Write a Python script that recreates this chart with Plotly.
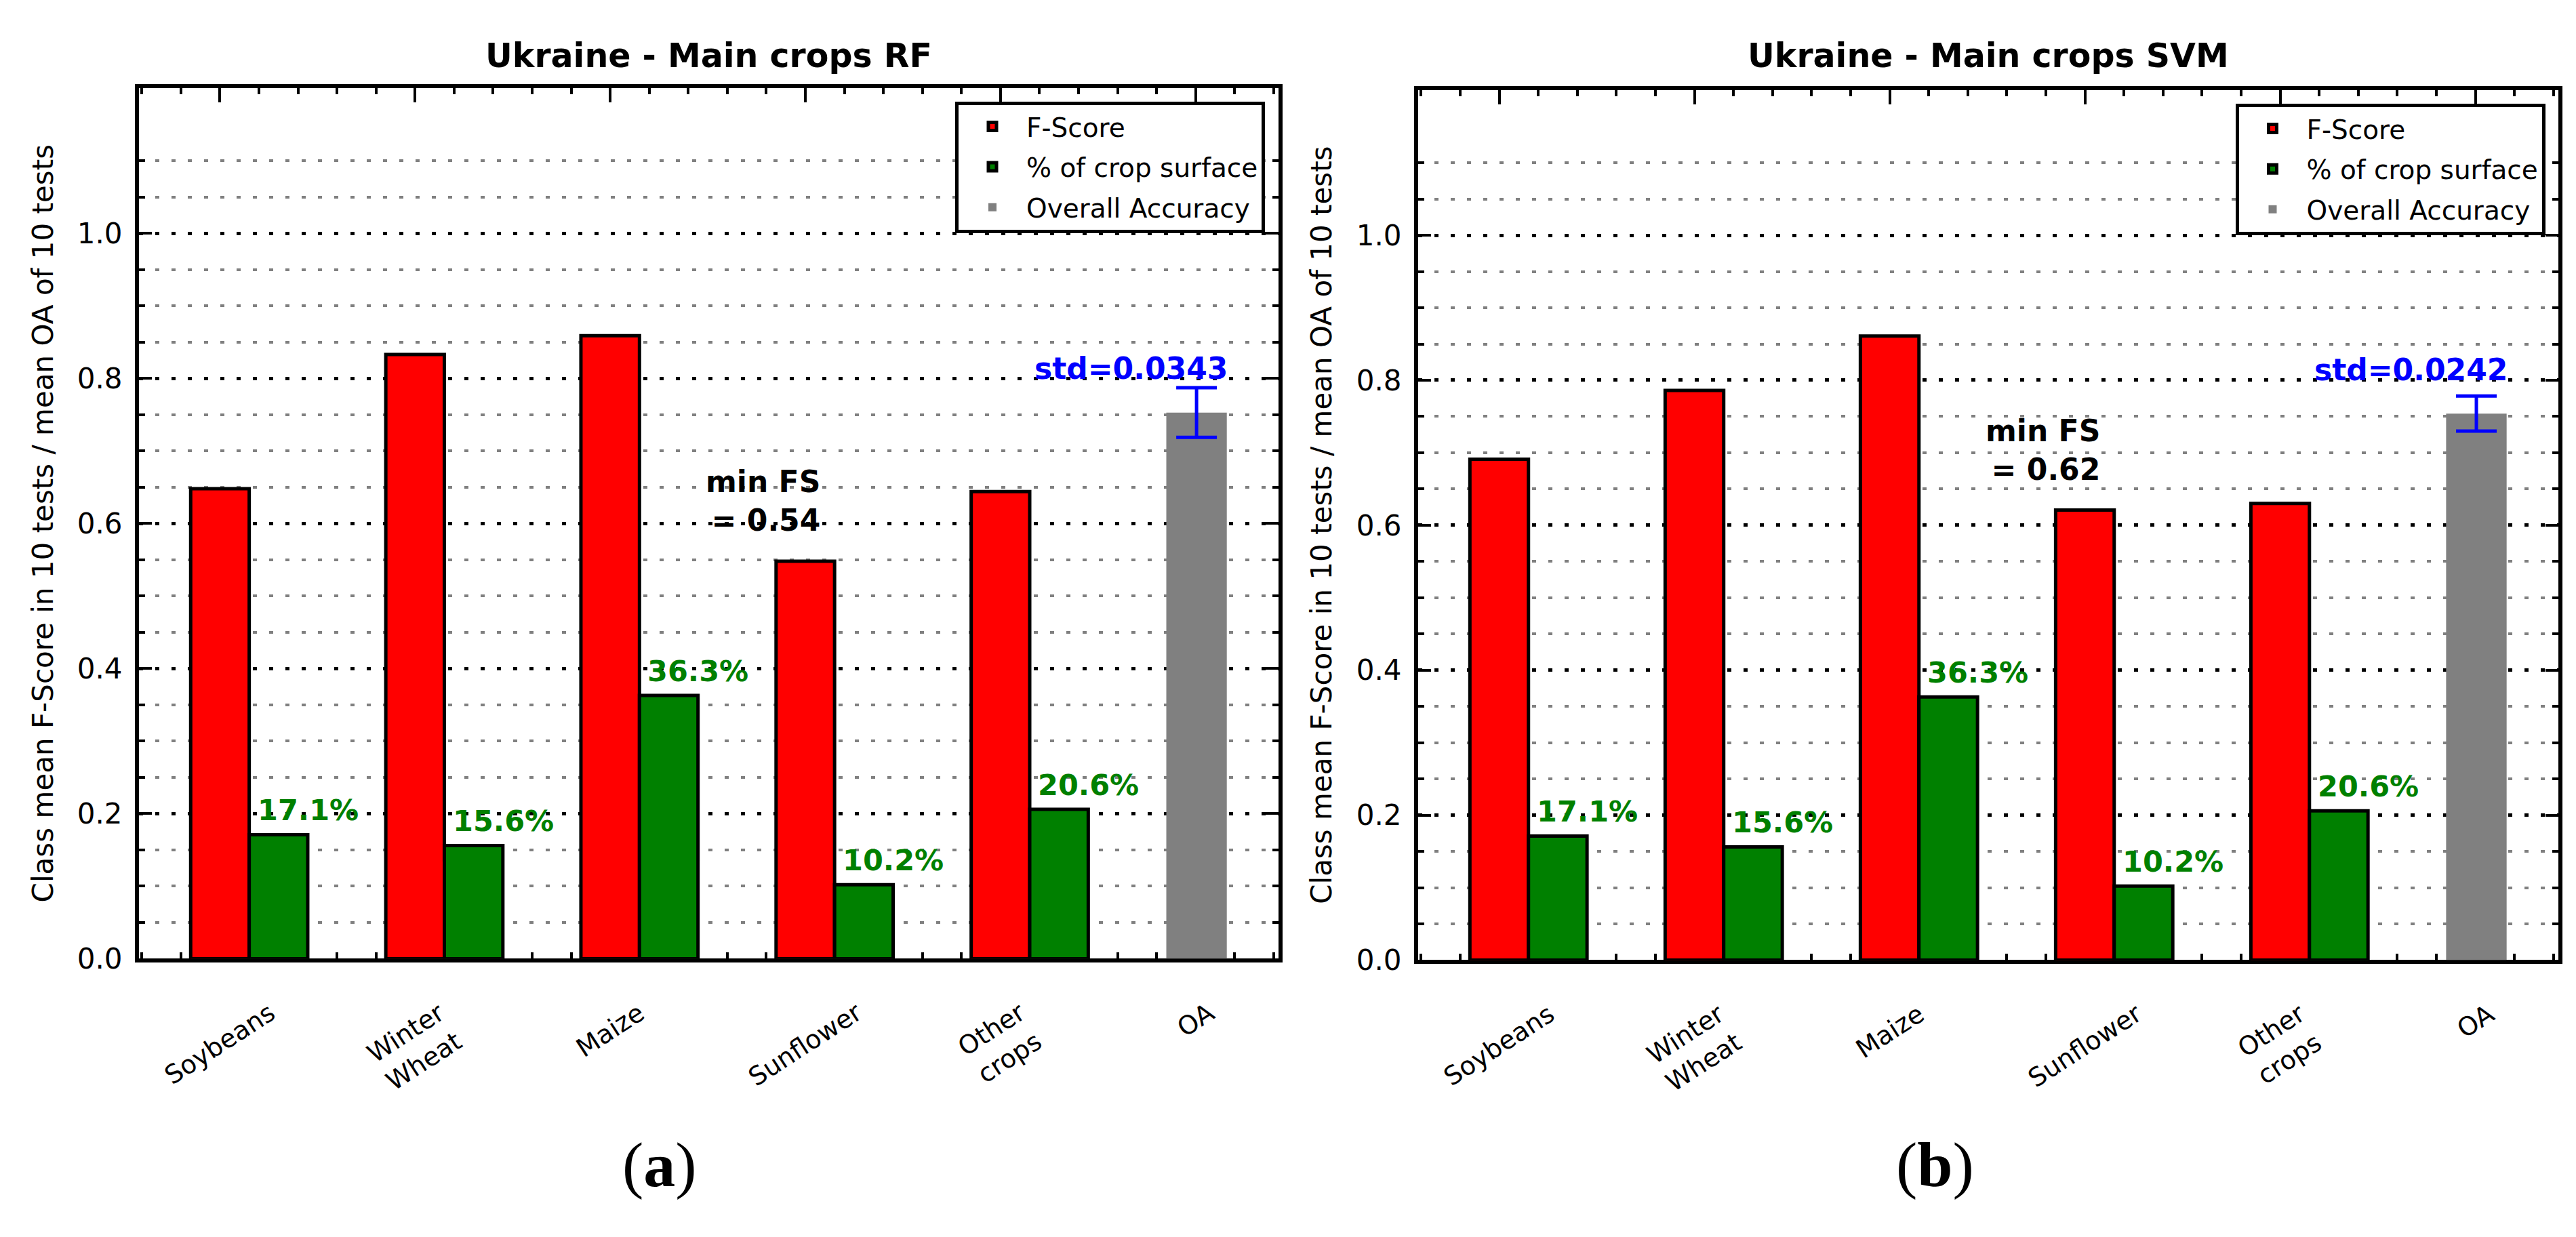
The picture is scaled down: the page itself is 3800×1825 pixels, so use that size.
import plotly.graph_objects as go

# ---------------- data ----------------
categories = ["Soybeans", "Winter\nWheat", "Maize", "Sunflower", "Other\ncrops"]
oa_label = "OA"
panel_titles = ["Ukraine - Main crops RF", "Ukraine - Main crops SVM"]
panel_tags = ["a", "b"]
fscore_rf = [0.648, 0.833, 0.859, 0.548, 0.644]
fscore_svm = [0.691, 0.786, 0.861, 0.621, 0.630]
crop_surface = [0.171, 0.156, 0.363, 0.102, 0.206]
oa_mean = [0.753, 0.754]
oa_std = [0.0343, 0.0242]
series_names = ["F-Score", "% of crop surface", "Overall Accuracy"]
y_major = [0.0, 0.2, 0.4, 0.6, 0.8, 1.0]
y_minor = [0.05, 0.1, 0.15, 0.25, 0.3, 0.35, 0.45, 0.5, 0.55, 0.65, 0.7, 0.75,
           0.85, 0.9, 0.95, 1.05, 1.1]
y_label = "Class mean F-Score in 10 tests / mean OA of 10 tests"

# ---------------- style / layout constants ----------------
W, H = 3800, 1825
FONT = "DejaVu Sans"
RED, GREEN, GRAY, BLUE = "#ff0000", "#008000", "#808080", "#0000ff"
BAR_W = 0.3
X_RANGE = [-0.265, 5.575]
panels_px = [  # left, right, top, bottom in pixels
    (197, 1878, 124, 1426),
    (2084, 3766, 127, 1428),
]
fscores = [fscore_rf, fscore_svm]
ylabel_x_px = [55, 1942]
tag_x_px = [965, 2846]


def px_x(v):
    return v / W


def px_y(v):
    return 1 - v / H


fig = go.Figure()
annotations = []
n = len(categories)

for p in range(2):
    xa = "x" if p == 0 else "x2"
    ya = "y" if p == 0 else "y2"
    leg = "legend" if p == 0 else "legend2"
    fs = fscores[p]
    red_x = [i + BAR_W / 2 for i in range(n)]
    green_x = [i + 1.5 * BAR_W for i in range(n)]
    fig.add_trace(go.Bar(
        x=red_x, y=fs, width=BAR_W, name=series_names[0],
        legendgroup=f"g0_{p}",
        marker=dict(color=RED, line=dict(color="black", width=5)),
        xaxis=xa, yaxis=ya, legend=leg))
    fig.add_trace(go.Bar(
        x=green_x, y=crop_surface, width=BAR_W, name=series_names[1],
        legendgroup=f"g1_{p}",
        marker=dict(color=GREEN, line=dict(color="black", width=5)),
        xaxis=xa, yaxis=ya, legend=leg))
    fig.add_trace(go.Bar(
        x=[n + 0.155], y=[oa_mean[p]], width=0.31, name=series_names[2],
        legendgroup=f"g2_{p}",
        marker=dict(color=GRAY, line=dict(width=0)),
        error_y=dict(type="data", array=[oa_std[p]], color=BLUE,
                     thickness=5, width=30),
        xaxis=xa, yaxis=ya, legend=leg))

    l, r, t, b = panels_px[p]
    # percentage labels
    for i, v in enumerate(crop_surface):
        annotations.append(dict(
            x=i + 0.335, y=v + 0.02, xref=xa, yref=ya,
            text=f"<b>{v * 100:.1f}%</b>", showarrow=False,
            xanchor="left", yanchor="middle", yshift=15,
            font=dict(family=FONT, size=43, color=GREEN)))
    # min FS annotation
    imin = min(range(n), key=lambda k: fs[k])
    vmin = int(fs[imin] * 100) / 100
    annotations.append(dict(
        x=imin + 0.235, y=fs[imin] + 0.04, xref=xa, yref=ya,
        text=f"<b>min FS<br>= {vmin:.2f}</b>", showarrow=False, align="right",
        xanchor="right", yanchor="bottom", yshift=-10,
        font=dict(family=FONT, size=44, color="black")))
    # std annotation
    annotations.append(dict(
        x=n - 0.682, y=0.80, xref=xa, yref=ya,
        text=f"<b>std={oa_std[p]:.4f}</b>", showarrow=False,
        xanchor="left", yanchor="middle", yshift=15,
        font=dict(family=FONT, size=44, color=BLUE)))
    # x tick labels (rotated, centered)
    for i, c in enumerate(categories + [oa_label]):
        annotations.append(dict(
            x=i + BAR_W / 2, y=px_y(b), xref=xa, yref="paper",
            text=c.replace("\n", "<br>"), showarrow=False, textangle=-33,
            xanchor="center", yanchor="top", yshift=-54, align="center",
            font=dict(family=FONT, size=38, color="black")))
    # title
    annotations.append(dict(
        x=px_x((l + r) / 2), y=px_y(76), xref="paper", yref="paper",
        text=f"<b>{panel_titles[p]}</b>", showarrow=False,
        xanchor="center", yanchor="middle",
        font=dict(family=FONT, size=49, color="black")))
    # y axis label
    annotations.append(dict(
        x=px_x(ylabel_x_px[p]), y=px_y((t + b) / 2), xref="paper", yref="paper",
        text=y_label, showarrow=False, textangle=-90,
        xanchor="center", yanchor="middle",
        font=dict(family=FONT, size=42, color="black")))
    # panel tag
    annotations.append(dict(
        x=px_x(tag_x_px[p]), y=px_y(1734), xref="paper", yref="paper",
        text=f"(<b>{panel_tags[p]}</b>)", showarrow=False,
        xanchor="center", yanchor="middle",
        font=dict(family="Liberation Serif", size=94, color="black")))

axis_common_x = dict(
    range=X_RANGE, tickmode="array",
    tickvals=[i + BAR_W / 2 for i in range(n + 1)],
    showticklabels=False, ticks="inside", ticklen=21, tickwidth=4,
    tickcolor="black", showline=True, linecolor="black", linewidth=6,
    mirror="ticks", showgrid=False, zeroline=False, layer="below traces",
    minor=dict(tickmode="linear", tick0=-0.05, dtick=0.2, ticks="inside",
               ticklen=9, tickwidth=4, tickcolor="black", showgrid=False),
)
axis_common_y = dict(
    range=[0, 1.2], tickmode="array", tickvals=y_major,
    ticktext=[f"{v:.1f}" for v in y_major],
    tickfont=dict(family=FONT, size=42, color="black"),
    ticks="inside", ticklen=19, tickwidth=4, tickcolor="black",
    ticklabelstandoff=10,
    showline=True, linecolor="black", linewidth=6, mirror="ticks",
    showgrid=True, gridcolor="black", gridwidth=5, griddash="6px,18px",
    zeroline=False,
    minor=dict(tickmode="array", tickvals=y_minor, ticks="inside",
               ticklen=9, tickwidth=4, tickcolor="black",
               showgrid=True, gridcolor=GRAY, gridwidth=4,
               griddash="6px,18px"),
)

leg_common = dict(
    xanchor="right", yanchor="top", bgcolor="white", bordercolor="black",
    borderwidth=5, font=dict(family=FONT, size=39, color="black"),
    itemwidth=90, tracegroupgap=6, traceorder="grouped",
)

fig.update_layout(
    width=W, height=H, autosize=False,
    margin=dict(l=0, r=0, t=0, b=0),
    paper_bgcolor="white", plot_bgcolor="white",
    barmode="overlay", showlegend=True,
    font=dict(family=FONT, color="black"),
    xaxis=dict(domain=[px_x(panels_px[0][0]), px_x(panels_px[0][1])],
               anchor="y", **axis_common_x),
    yaxis=dict(domain=[px_y(panels_px[0][3]), px_y(panels_px[0][2])],
               anchor="x", **axis_common_y),
    xaxis2=dict(domain=[px_x(panels_px[1][0]), px_x(panels_px[1][1])],
                anchor="y2", **axis_common_x),
    yaxis2=dict(domain=[px_y(panels_px[1][3]), px_y(panels_px[1][2])],
                anchor="x2", **axis_common_y),
    legend=dict(x=px_x(1858), y=px_y(143.5), **leg_common),
    legend2=dict(x=px_x(3746.5), y=px_y(146.6), **leg_common),
    annotations=annotations,
)

fig.write_html("out.html")
